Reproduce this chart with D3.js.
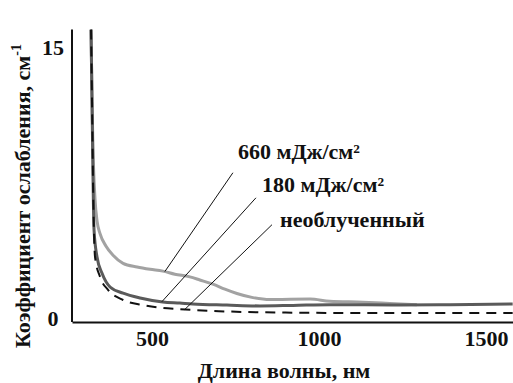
<!DOCTYPE html>
<html>
<head>
<meta charset="utf-8">
<script src="https://cdn.jsdelivr.net/npm/d3@7"></script>
<style>
  html, body { margin: 0; padding: 0; background: #fff; }
  svg { display: block; }
</style>
</head>
<body>
<svg id="chart" width="513" height="383" style="font-family:'Liberation Serif', serif; font-weight:bold"></svg>
<script>
// Attenuation spectra: [wavelength nm, coefficient cm^-1]
const dose660 = [[317,16],[320,12],[323,9.3],[329,6.6],[335,5.4],[344,4.7],[362,4.0],[383,3.5],[413,3.05],[455,2.85],[494,2.72],[532,2.62],[568,2.45],[613,2.3],[643,2.13],[682,1.9],[718,1.62],[754,1.38],[802,1.15],[853,1.04],[913,1.06],[973,1.07],[1032,0.95],[1131,0.9],[1212,0.83],[1293,0.76]];
const dose180 = [[317,16],[320,12],[323,7.7],[326,4.9],[335,3.4],[350,2.5],[374,1.74],[413,1.4],[464,1.13],[532,0.91],[583,0.85],[622,0.8],[724,0.74],[823,0.69],[922,0.72],[1032,0.76],[1242,0.74],[1392,0.76],[1580,0.8]];
const unexposed = [[317,16],[320,12],[323,7.5],[329,3.4],[344,2.3],[368,1.58],[413,1.02],[473,0.74],[532,0.58],[574,0.52],[700,0.4],[900,0.32],[1100,0.3],[1300,0.3],[1580,0.3]];

const xTicks = [500, 1000, 1500];
const yTicks = [0, 15];

const seriesNames = ["660 мДж/см²", "180 мДж/см²", "необлученный"];

const svg = d3.select("#chart");

// bold serif 22px label text
function serif(sel, size) {
  return sel.style("font-family", "'Liberation Serif', serif")
    .style("font-weight", "bold")
    .style("font-size", (size || 22) + "px")
    .attr("fill", "#111");
}

const x = d3.scaleLinear().domain([260, 1581]).range([72, 513]);
const y = d3.scaleLinear().domain([-0.2, 16.2]).range([322, 26]);

const line = d3.line().x(d => x(d[0])).y(d => y(d[1])).curve(d3.curveMonotoneX);

// curves
const series = [
  { data: dose660, color: "#a2a2a2", width: 3, dash: null },
  { data: dose180, color: "#5a5a5a", width: 3, dash: null },
  { data: unexposed, color: "#111", width: 2, dash: "10,7" }
];
svg.append("g").selectAll("path").data(series).join("path")
  .attr("d", s => line(s.data))
  .attr("fill", "none")
  .attr("stroke", s => s.color)
  .attr("stroke-width", s => s.width)
  .attr("stroke-dasharray", s => s.dash)
  .attr("stroke-linejoin", "round");

// axes
const xAxis = svg.append("g").attr("transform", "translate(0,322)")
  .call(d3.axisBottom(x).tickValues(xTicks).tickSize(0).tickPadding(8).tickFormat(d3.format("d")));
xAxis.attr("font-family", null).attr("font-size", null);
xAxis.select(".domain").attr("stroke", "#111").attr("stroke-width", 2);
serif(xAxis.selectAll("text"));

const yAxis = svg.append("g").attr("transform", "translate(72,0)")
  .call(d3.axisLeft(y).tickValues(yTicks).tickSize(0).tickPadding(8));
yAxis.attr("font-family", null).attr("font-size", null);
yAxis.select(".domain").attr("stroke", "#111").attr("stroke-width", 2).attr("d", `M0,${y(16)}V322`);
serif(yAxis.selectAll("text")).attr("text-anchor", "middle").attr("x", -19);

// axis titles
serif(svg.append("text").attr("x", 284).attr("y", 378).attr("text-anchor", "middle")
  .text("Длина волны, нм"));

const yt = serif(svg.append("text").attr("transform", "translate(30,196) rotate(-90)")
  .attr("text-anchor", "middle"));
yt.append("tspan").text("Коэффициент ослабления, см");
yt.append("tspan").attr("dy", -9).style("font-size", "14px").text("-1");

// annotations: label anchor and leader line, in data units
const notes = [
  { name: seriesNames[0], data: dose660, at: 538, tx: 757, ty: 8.85, lx: 742, ly: 8.07 },
  { name: seriesNames[1], data: dose180, at: 529, tx: 829, ty: 7.02, lx: 811, ly: 6.68 },
  { name: seriesNames[2], data: unexposed, at: 598, tx: 883, ty: 5.08, lx: 859, ly: 5.19 }
];
function valueAt(data, w) {
  const i = d3.bisector(d => d[0]).left(data, w);
  const a = data[Math.max(0, i - 1)], b = data[Math.min(data.length - 1, i)];
  if (a[0] === b[0]) return a[1];
  return a[1] + (b[1] - a[1]) * (w - a[0]) / (b[0] - a[0]);
}
const ng = svg.append("g");
notes.forEach(n => {
  ng.append("line")
    .attr("x1", x(n.lx)).attr("y1", y(n.ly))
    .attr("x2", x(n.at)).attr("y2", y(valueAt(n.data, n.at)))
    .attr("stroke", "#111").attr("stroke-width", 1);
  serif(ng.append("text").attr("x", x(n.tx)).attr("y", y(n.ty)).text(n.name));
});
</script>
</body>
</html>
